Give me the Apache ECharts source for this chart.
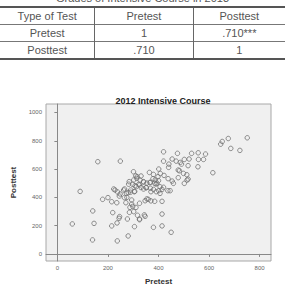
<!DOCTYPE html>
<html>
<head>
<meta charset="utf-8">
<script src="https://cdn.jsdelivr.net/npm/echarts@6/dist/echarts.min.js"></script>
<style>
  html, body { margin: 0; padding: 0; background: #fff; }
  #wrap { position: relative; width: 285px; height: 290px; overflow: hidden; }
  #caption { position: absolute; left: 0; width: 285px; top: -8px; text-align: center;
    font: 11px "Liberation Sans", Arial, sans-serif; color: #555; line-height: 12px; }
  #tbl { position: absolute; left: 0; top: 6px; width: 285px; border-collapse: collapse;
    font: 11px "Liberation Sans", Arial, sans-serif; color: #555; }
  #tbl td { text-align: center; padding: 0; height: 16px; border-top: 1px solid #777; }
  #tbl td + td { border-left: 1px solid #666; }
  #tbl tr:first-child td { border-top: 2px solid #555; }
  #tbl tr:last-child td { border-bottom: 2px solid #555; }
  #chart { position: absolute; left: 0; top: 0; width: 285px; height: 290px; }
</style>
</head>
<body>
<div id="wrap">
  <div id="chart"></div>
  <div id="caption">Grades of Intensive Course in 2013</div>
  <table id="tbl"></table>
</div>
<script>
// table content
var tableHead = ['Type of Test', 'Pretest', 'Posttest'];
var tableRow1 = ['Pretest', '1', '.710***'];
var tableRow2 = ['Posttest', '.710', '1'];
var colWidths = [95, 98, 92];

// scatter data
var pretest = [
  751, 676, 652, 646, 686, 722, 420, 475, 531, 557, 586, 160, 249, 454, 470, 486, 502, 521, 558, 578,
  420, 441, 440, 491, 517, 556, 401, 301, 364, 380, 407, 422, 483, 478, 499, 512, 517, 615, 310, 314,
  327, 322, 341, 354, 366, 378, 400, 390, 385, 438, 454, 459, 478, 502, 513, 284, 298, 307, 290, 280,
  306, 325, 266, 380, 370, 391, 401, 414, 406, 437, 446, 420, 406, 351, 341, 228, 238, 248, 245, 200,
  179, 215, 235, 275, 271, 294, 294, 311, 287, 298, 325, 347, 360, 385, 347, 302, 285, 277, 317, 325,
  305, 246, 244, 219, 140, 90, 59, 145, 139, 237, 215, 236, 280, 414, 380, 414, 450, 414, 315, 331,
  302, 341, 368, 387, 398, 282, 312, 331, 352, 368, 394, 223, 262, 273, 289, 304, 265, 354, 370, 325,
  344
];
var posttest = [
  821, 816, 795, 776, 746, 732, 722, 711, 711, 715, 706, 652, 656, 671, 656, 647, 668, 671, 668, 668,
  656, 635, 612, 635, 624, 616, 600, 581, 576, 562, 569, 555, 588, 593, 569, 560, 529, 574, 553, 534,
  522, 492, 508, 501, 504, 532, 518, 494, 499, 532, 515, 499, 539, 499, 522, 511, 492, 482, 452, 433,
  442, 487, 459, 456, 440, 440, 447, 456, 428, 447, 447, 471, 475, 468, 459, 452, 438, 424, 409, 398,
  386, 369, 362, 400, 362, 381, 353, 329, 329, 336, 358, 376, 386, 372, 266, 299, 294, 247, 273, 242,
  193, 264, 252, 292, 304, 442, 212, 216, 99, 92, 198, 219, 127, 282, 188, 198, 153, 372, 546, 551,
  523, 511, 507, 523, 546, 493, 476, 469, 469, 464, 500, 459, 452, 429, 436, 440, 398, 389, 375, 247,
  276
];
var xTicks = [0, 200, 400, 600, 800];
var yTicks = [0, 200, 400, 600, 800, 1000];

// build table
var tbl = document.getElementById('tbl');
[tableHead, tableRow1, tableRow2].forEach(function(row) {
  var tr = document.createElement('tr');
  row.forEach(function(txt, i) {
    var td = document.createElement('td');
    td.style.width = colWidths[i] + 'px';
    td.textContent = txt;
    tr.appendChild(td);
  });
  tbl.appendChild(tr);
});

var points = pretest.map(function(x, i) { return [x, posttest[i]]; });
var plain = function(v) { return String(v); };

var chart = echarts.init(document.getElementById('chart'), null, { renderer: 'svg' });
var font = '"Liberation Sans", Arial, sans-serif';
chart.setOption({
  animation: false,
  title: {
    text: '2012 Intensive Course',
    left: 158, top: 91, textAlign: 'center',
    textStyle: { fontSize: 9, fontWeight: 'bold', color: '#222', fontFamily: font }
  },
  grid: {
    left: 46, right: 14, top: 104, bottom: 29,
    show: true, backgroundColor: '#f0f0f0', borderColor: '#a8a8a8', borderWidth: 1
  },
  xAxis: {
    type: 'value', min: -45, max: 845,
    name: 'Pretest', nameLocation: 'middle', nameGap: 16,
    nameTextStyle: { fontSize: 8, fontWeight: 'bold', color: '#333', fontFamily: font },
    axisLine: { show: true, lineStyle: { color: '#888' } },
    axisTick: { show: true, length: 3, customValues: xTicks, lineStyle: { color: '#888' } },
    axisLabel: { customValues: xTicks, formatter: plain, fontSize: 6, color: '#666', margin: 4, fontFamily: font },
    splitLine: { show: false }
  },
  yAxis: {
    type: 'value', min: -50, max: 1060,
    name: 'Posttest', nameLocation: 'middle', nameGap: 19, nameRotate: 90,
    nameTextStyle: { fontSize: 8, fontWeight: 'bold', color: '#333', fontFamily: font },
    axisLine: { show: true, lineStyle: { color: '#888' } },
    axisTick: { show: true, length: 3, customValues: yTicks, lineStyle: { color: '#888' } },
    axisLabel: { customValues: yTicks, formatter: plain, fontSize: 6, color: '#666', margin: 4, fontFamily: font },
    splitLine: { show: false }
  },
  series: [{
    type: 'scatter',
    data: points,
    symbol: 'circle',
    symbolSize: 4.5,
    itemStyle: { color: 'rgba(0,0,0,0)', borderColor: '#707070', borderWidth: 1 }
  }]
});
</script>
</body>
</html>
